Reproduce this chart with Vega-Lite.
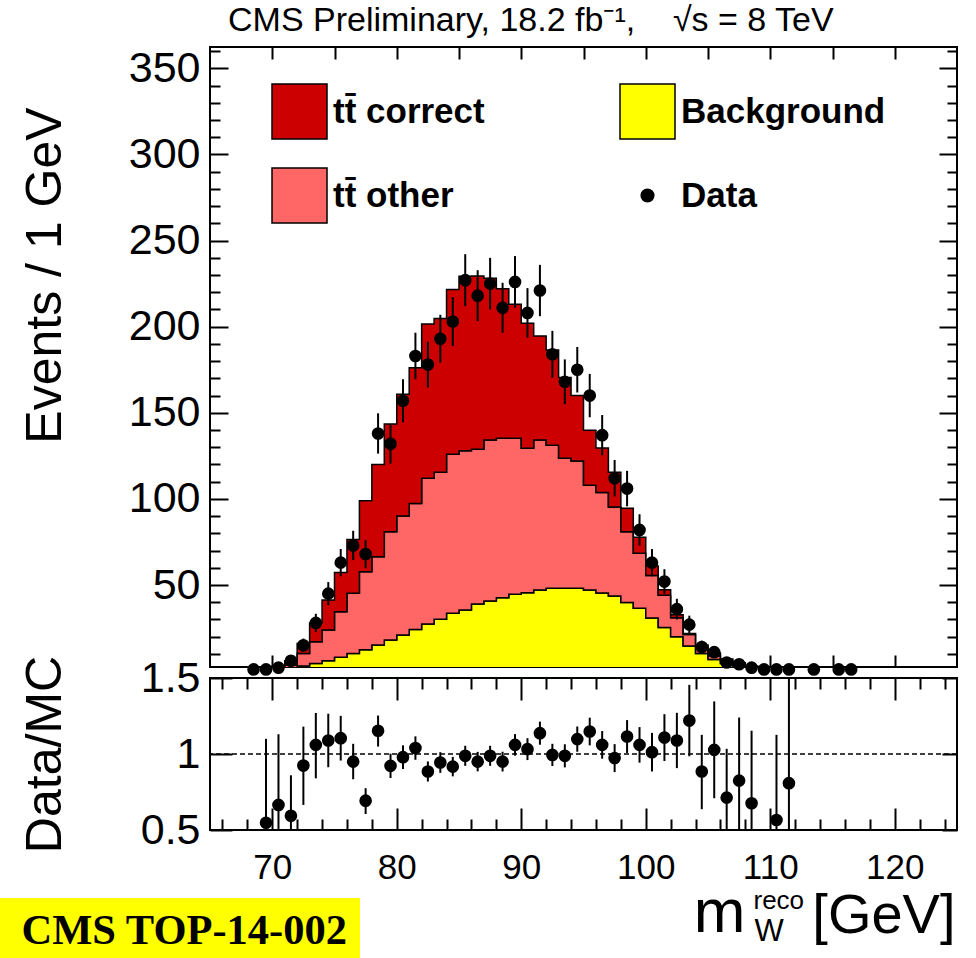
{
  "$schema": "https://vega.github.io/schema/vega-lite/v6.json",
  "padding": {"left": 0, "top": 3, "right": 0, "bottom": 0},
  "background": "white",
  "datasets": {
    "hist": [
      {"edge": 68, "bkg": 0, "other": 0, "signal": 0},
      {"edge": 69, "bkg": 0.6, "other": 0.6, "signal": 0.6},
      {"edge": 70, "bkg": 1, "other": 0.8, "signal": 1.2},
      {"edge": 71, "bkg": 2, "other": 1.5, "signal": 2.5},
      {"edge": 72, "bkg": 3, "other": 7.3, "signal": 5.7},
      {"edge": 73, "bkg": 4.5, "other": 12.6, "signal": 10.9},
      {"edge": 74, "bkg": 6, "other": 17.9, "signal": 17.4},
      {"edge": 75, "bkg": 8, "other": 26.5, "signal": 22.8},
      {"edge": 76, "bkg": 10.3, "other": 34.9, "signal": 31.2},
      {"edge": 77, "bkg": 12.4, "other": 45.3, "signal": 41.3},
      {"edge": 78, "bkg": 15.2, "other": 51.2, "signal": 53.6},
      {"edge": 79, "bkg": 18.1, "other": 62.9, "signal": 62.5},
      {"edge": 80, "bkg": 21, "other": 69.1, "signal": 70.6},
      {"edge": 81, "bkg": 24.2, "other": 73.2, "signal": 78.8},
      {"edge": 82, "bkg": 27.4, "other": 84.6, "signal": 89.5},
      {"edge": 83, "bkg": 30.1, "other": 85.4, "signal": 89.3},
      {"edge": 84, "bkg": 33.6, "other": 92.3, "signal": 95.7},
      {"edge": 85, "bkg": 35.5, "other": 92.5, "signal": 101.3},
      {"edge": 86, "bkg": 39, "other": 89.8, "signal": 100.6},
      {"edge": 87, "bkg": 40.7, "other": 93.5, "signal": 93.9},
      {"edge": 88, "bkg": 42.6, "other": 92.6, "signal": 86.8},
      {"edge": 89, "bkg": 44.6, "other": 90.6, "signal": 77.8},
      {"edge": 90, "bkg": 45.5, "other": 83.9, "signal": 72.6},
      {"edge": 91, "bkg": 47.1, "other": 87.1, "signal": 60.4},
      {"edge": 92, "bkg": 48.1, "other": 83.1, "signal": 55.3},
      {"edge": 93, "bkg": 48.1, "other": 75.5, "signal": 46.9},
      {"edge": 94, "bkg": 48.1, "other": 73.9, "signal": 38},
      {"edge": 95, "bkg": 47.1, "other": 60.9, "signal": 31.8},
      {"edge": 96, "bkg": 45.3, "other": 58.4, "signal": 25.8},
      {"edge": 97, "bkg": 43.6, "other": 51.7, "signal": 20.2},
      {"edge": 98, "bkg": 39.8, "other": 41.2, "signal": 13.6},
      {"edge": 99, "bkg": 36.5, "other": 31.9, "signal": 9.4},
      {"edge": 100, "bkg": 30.8, "other": 24.7, "signal": 5.5},
      {"edge": 101, "bkg": 25.4, "other": 18.6, "signal": 3.3},
      {"edge": 102, "bkg": 20, "other": 11, "signal": 1.8},
      {"edge": 103, "bkg": 14.6, "other": 6.7, "signal": 0.5},
      {"edge": 104, "bkg": 10.3, "other": 4.2, "signal": 0.7},
      {"edge": 105, "bkg": 6.8, "other": 2.2, "signal": 1.5},
      {"edge": 106, "bkg": 4.5, "other": 1.5, "signal": 1},
      {"edge": 107, "bkg": 3, "other": 1, "signal": 0.8},
      {"edge": 108, "bkg": 1.8, "other": 0.7, "signal": 0.5},
      {"edge": 109, "bkg": 1.2, "other": 0.6, "signal": 0.7},
      {"edge": 110, "bkg": 0.9, "other": 0.4, "signal": 0.47},
      {"edge": 111, "bkg": 0.6, "other": 0.3, "signal": 0.34},
      {"edge": 112, "bkg": 0.3, "other": 0.1, "signal": 0.1},
      {"edge": 113, "bkg": 0.2, "other": 0.05, "signal": 0.05},
      {"edge": 114, "bkg": 0, "other": 0, "signal": 0}
    ],
    "data": [
      {"m": 68.5, "n": 1, "lo": 0, "hi": 2},
      {"m": 69.5, "n": 1, "lo": 0, "hi": 2},
      {"m": 70.5, "n": 2, "lo": 0.59, "hi": 3.41},
      {"m": 71.5, "n": 6, "lo": 3.55, "hi": 8.45},
      {"m": 72.5, "n": 15, "lo": 11.1, "hi": 18.9},
      {"m": 73.5, "n": 28, "lo": 22.7, "hi": 33.3},
      {"m": 74.5, "n": 45, "lo": 38.3, "hi": 51.7},
      {"m": 75.5, "n": 63, "lo": 55.1, "hi": 70.9},
      {"m": 76.5, "n": 73, "lo": 64.5, "hi": 81.5},
      {"m": 77.5, "n": 68, "lo": 59.8, "hi": 76.2},
      {"m": 78.5, "n": 138, "lo": 126.3, "hi": 149.7},
      {"m": 79.5, "n": 132, "lo": 120.5, "hi": 143.5},
      {"m": 80.5, "n": 157, "lo": 144.5, "hi": 169.5},
      {"m": 81.5, "n": 183, "lo": 169.5, "hi": 196.5},
      {"m": 82.5, "n": 178, "lo": 164.7, "hi": 191.3},
      {"m": 83.5, "n": 193, "lo": 179.1, "hi": 206.9},
      {"m": 84.5, "n": 203, "lo": 188.8, "hi": 217.2},
      {"m": 85.5, "n": 227, "lo": 211.9, "hi": 242.1},
      {"m": 86.5, "n": 218, "lo": 203.2, "hi": 232.8},
      {"m": 87.5, "n": 225, "lo": 210, "hi": 240},
      {"m": 88.5, "n": 211, "lo": 196.5, "hi": 225.5},
      {"m": 89.5, "n": 226, "lo": 211, "hi": 241},
      {"m": 90.5, "n": 208, "lo": 193.6, "hi": 222.4},
      {"m": 91.5, "n": 221, "lo": 206.1, "hi": 235.9},
      {"m": 92.5, "n": 184, "lo": 170.4, "hi": 197.6},
      {"m": 93.5, "n": 168, "lo": 155, "hi": 181},
      {"m": 94.5, "n": 175, "lo": 161.8, "hi": 188.2},
      {"m": 95.5, "n": 160, "lo": 147.4, "hi": 172.6},
      {"m": 96.5, "n": 137, "lo": 125.3, "hi": 148.7},
      {"m": 97.5, "n": 112, "lo": 101.4, "hi": 122.6},
      {"m": 98.5, "n": 106, "lo": 95.7, "hi": 116.3},
      {"m": 99.5, "n": 82, "lo": 72.9, "hi": 91.1},
      {"m": 100.5, "n": 63, "lo": 55.1, "hi": 70.9},
      {"m": 101.5, "n": 52, "lo": 44.8, "hi": 59.2},
      {"m": 102.5, "n": 36, "lo": 30, "hi": 42},
      {"m": 103.5, "n": 27, "lo": 21.8, "hi": 32.2},
      {"m": 104.5, "n": 14, "lo": 10.3, "hi": 17.7},
      {"m": 105.5, "n": 11, "lo": 7.7, "hi": 14.3},
      {"m": 106.5, "n": 5, "lo": 2.8, "hi": 7.2},
      {"m": 107.5, "n": 4, "lo": 2, "hi": 6},
      {"m": 108.5, "n": 2, "lo": 0.59, "hi": 3.41},
      {"m": 109.5, "n": 1, "lo": 0, "hi": 2},
      {"m": 110.5, "n": 1, "lo": 0, "hi": 2},
      {"m": 111.5, "n": 1, "lo": 0, "hi": 2},
      {"m": 113.5, "n": 1, "lo": 0, "hi": 2},
      {"m": 115.5, "n": 1, "lo": 0, "hi": 2},
      {"m": 116.5, "n": 1, "lo": 0, "hi": 2}
    ],
    "ratio": [
      {"m": 69.5, "r": 0.548, "lo": 0, "hi": 1.1},
      {"m": 70.5, "r": 0.665, "lo": 0.2, "hi": 1.13},
      {"m": 71.5, "r": 0.594, "lo": 0.33, "hi": 0.86},
      {"m": 72.5, "r": 0.924, "lo": 0.665, "hi": 1.18},
      {"m": 73.5, "r": 1.06, "lo": 0.84, "hi": 1.27},
      {"m": 74.5, "r": 1.089, "lo": 0.913, "hi": 1.265},
      {"m": 75.5, "r": 1.104, "lo": 0.957, "hi": 1.251},
      {"m": 76.5, "r": 0.95, "lo": 0.834, "hi": 1.067},
      {"m": 77.5, "r": 0.693, "lo": 0.605, "hi": 0.775},
      {"m": 78.5, "r": 1.153, "lo": 1.049, "hi": 1.253},
      {"m": 79.5, "r": 0.922, "lo": 0.842, "hi": 1.002},
      {"m": 80.5, "r": 0.979, "lo": 0.901, "hi": 1.057},
      {"m": 81.5, "r": 1.039, "lo": 0.962, "hi": 1.116},
      {"m": 82.5, "r": 0.885, "lo": 0.819, "hi": 0.951},
      {"m": 83.5, "r": 0.944, "lo": 0.876, "hi": 1.012},
      {"m": 84.5, "r": 0.917, "lo": 0.853, "hi": 0.981},
      {"m": 85.5, "r": 0.988, "lo": 0.922, "hi": 1.054},
      {"m": 86.5, "r": 0.95, "lo": 0.886, "hi": 1.014},
      {"m": 87.5, "r": 0.988, "lo": 0.922, "hi": 1.054},
      {"m": 88.5, "r": 0.95, "lo": 0.885, "hi": 1.015},
      {"m": 89.5, "r": 1.06, "lo": 0.989, "hi": 1.131},
      {"m": 90.5, "r": 1.032, "lo": 0.96, "hi": 1.104},
      {"m": 91.5, "r": 1.137, "lo": 1.061, "hi": 1.213},
      {"m": 92.5, "r": 0.994, "lo": 0.921, "hi": 1.067},
      {"m": 93.5, "r": 0.988, "lo": 0.912, "hi": 1.064},
      {"m": 94.5, "r": 1.098, "lo": 1.015, "hi": 1.181},
      {"m": 95.5, "r": 1.148, "lo": 1.057, "hi": 1.239},
      {"m": 96.5, "r": 1.06, "lo": 0.969, "hi": 1.151},
      {"m": 97.5, "r": 0.973, "lo": 0.881, "hi": 1.065},
      {"m": 98.5, "r": 1.115, "lo": 1.007, "hi": 1.223},
      {"m": 99.5, "r": 1.06, "lo": 0.943, "hi": 1.177},
      {"m": 100.5, "r": 1.012, "lo": 0.885, "hi": 1.139},
      {"m": 101.5, "r": 1.108, "lo": 0.954, "hi": 1.262},
      {"m": 102.5, "r": 1.089, "lo": 0.907, "hi": 1.271},
      {"m": 103.5, "r": 1.22, "lo": 0.985, "hi": 1.455},
      {"m": 104.5, "r": 0.885, "lo": 0.637, "hi": 1.126},
      {"m": 105.5, "r": 1.027, "lo": 0.709, "hi": 1.346},
      {"m": 106.5, "r": 0.713, "lo": 0.393, "hi": 1.034},
      {"m": 107.5, "r": 0.825, "lo": 0.41, "hi": 1.24},
      {"m": 108.5, "r": 0.676, "lo": 0.199, "hi": 1.153},
      {"m": 110.5, "r": 0.566, "lo": 0, "hi": 1.126},
      {"m": 111.5, "r": 0.808, "lo": 0, "hi": 1.616}
    ]
  },
  "vconcat": [
    {
      "width": 747,
      "height": 620,
      "title": {
        "text": "CMS Preliminary, 18.2 fb⁻¹,\u00a0\u00a0\u00a0 √s = 8 TeV",
        "anchor": "start",
        "frame": "group",
        "dx": 18,
        "font": "Liberation Sans",
        "fontSize": 34,
        "fontWeight": "normal",
        "color": "black",
        "offset": -8
      },
      "layer": [
        {
          "data": {"name": "hist"},
          "transform": [{"fold": ["bkg", "other", "signal"], "as": ["key", "value"]}],
          "mark": {"type": "area", "interpolate": "step-after", "clip": true, "stroke": "black", "strokeWidth": 1.5, "opacity": 1},
          "encoding": {
            "x": {
              "field": "edge", "type": "quantitative",
              "scale": {"domain": [65, 125], "nice": false, "zero": false},
              "axis": {
                "orient": "bottom",
                "values": [70, 75, 80, 85, 90, 95, 100, 105, 110, 115, 120],
                "labels": false, "tickSize": -12, "tickWidth": 2,
                "title": "W",
                "titleX": 544, "titleY": 273, "titleAlign": "left", "titleBaseline": "alphabetic",
                "titleFont": "Liberation Sans", "titleFontSize": 31, "titleFontWeight": "normal"
              }
            },
            "y": {
              "field": "value", "type": "quantitative", "stack": "zero",
              "scale": {"domain": [2.4, 362.4], "nice": false, "zero": false},
              "axis": {
                "orient": "left",
                "values": [10, 20, 30, 40, 50, 60, 70, 80, 90, 100, 110, 120, 130, 140, 150, 160, 170, 180, 190, 200, 210, 220, 230, 240, 250, 260, 270, 280, 290, 300, 310, 320, 330, 340, 350, 360],
                "labelExpr": "datum.value % 50 === 0 ? datum.label : ''",
                "format": "d",
                "tickSize": {"condition": {"test": "datum.value % 50 === 0", "value": -18}, "value": -10},
                "tickWidth": 2,
                "labelPadding": 28,
                "labelFont": "Liberation Sans", "labelFontSize": 43,
                "labelOverlap": false, "labelFlush": false, "labelBound": false,
                "title": "Events / 1 GeV",
                "titleX": -165, "titleY": 228, "titleAngle": 270, "titleAlign": "center", "titleBaseline": "middle",
                "titleFont": "Liberation Sans", "titleFontSize": 50, "titleFontWeight": "normal"
              }
            },
            "color": {
              "field": "key", "type": "nominal",
              "scale": {"domain": ["signal", "other", "bkg", "Data"], "range": ["#cc0000", "#ff6666", "#ffff00", "#000000"]},
              "legend": {
                "orient": "none", "legendX": 72, "legendY": 47,
                "columns": 2, "columnPadding": 132, "rowPadding": 23,
                "title": null,
                "symbolType": "square", "symbolSize": 3025, "symbolStrokeColor": "black", "symbolStrokeWidth": 1.5, "symbolOpacity": 1,
                "labelFont": "Liberation Sans", "labelFontWeight": "bold", "labelFontSize": 35, "labelColor": "black", "labelOffset": 16, "labelLimit": 0,
                "labelExpr": "datum.label === 'signal' ? 'tt\u0304 correct' : datum.label === 'other' ? 'tt\u0304 other' : datum.label === 'bkg' ? 'Background' : 'Data'",
                "encode": {
                  "symbols": {
                    "update": {
                      "shape": {"signal": "datum.value === 'Data' ? 'circle' : 'square'"},
                      "size": {"signal": "datum.value === 'Data' ? 200 : 3025"},
                      "strokeWidth": {"signal": "datum.value === 'Data' ? 0 : 1.5"}
                    }
                  }
                }
              }
            },
            "order": {"field": "key", "sort": "ascending"}
          }
        },
        {
          "data": {"name": "data"},
          "mark": {"type": "rule", "color": "black", "strokeWidth": 2, "clip": true},
          "encoding": {
            "x": {"field": "m", "type": "quantitative", "axis": null},
            "y": {"field": "lo", "type": "quantitative", "axis": null},
            "y2": {"field": "hi"}
          }
        },
        {
          "data": {"name": "data"},
          "mark": {"type": "point", "shape": "circle", "filled": true, "size": 160, "opacity": 1},
          "encoding": {
            "x": {
              "field": "m", "type": "quantitative",
              "axis": {"orient": "top", "values": [70, 75, 80, 85, 90, 95, 100, 105, 110, 115, 120], "labels": false, "tickSize": -12, "tickWidth": 2, "title": null}
            },
            "y": {
              "field": "n", "type": "quantitative",
              "axis": {
                "orient": "right",
                "values": [10, 20, 30, 40, 50, 60, 70, 80, 90, 100, 110, 120, 130, 140, 150, 160, 170, 180, 190, 200, 210, 220, 230, 240, 250, 260, 270, 280, 290, 300, 310, 320, 330, 340, 350, 360],
                "labels": false,
                "tickSize": {"condition": {"test": "datum.value % 50 === 0", "value": -18}, "value": -10},
                "tickWidth": 2, "title": null
              }
            },
            "color": {"datum": "Data", "scale": {"domain": ["signal", "other", "bkg", "Data"], "range": ["#cc0000", "#ff6666", "#ffff00", "#000000"]}}
          }
        }
      ],
      "resolve": {"axis": {"x": "independent", "y": "independent"}}
    },
    {
      "width": 747,
      "height": 152,
      "layer": [
        {
          "data": {"values": [{}]},
          "mark": {"type": "rule", "color": "black", "strokeWidth": 1.5},
          "encoding": {
            "y": {"datum": 1, "axis": null},
            "strokeDash": {
              "datum": "CMS TOP-14-002",
              "scale": {"range": [[5, 3]]},
              "legend": {
                "orient": "none", "legendX": -210, "legendY": 851,
                "title": null, "fillColor": "#ffff00", "padding": 12,
                "symbolSize": 1, "symbolOpacity": 0, "symbolStrokeWidth": 0, "symbolType": "circle",
                "labelOffset": -33, "labelLimit": 0,
                "labelFont": "Liberation Serif", "labelFontWeight": "bold", "labelFontSize": 42.5, "labelColor": "black"
              }
            }
          }
        },
        {
          "data": {"name": "ratio"},
          "mark": {"type": "rule", "color": "black", "strokeWidth": 2, "clip": true},
          "encoding": {
            "x": {
              "field": "m", "type": "quantitative",
              "scale": {"domain": [65, 125], "nice": false, "zero": false},
              "axis": {
                "orient": "bottom",
                "values": [66, 68, 70, 72, 74, 76, 78, 80, 82, 84, 86, 88, 90, 92, 94, 96, 98, 100, 102, 104, 106, 108, 110, 112, 114, 116, 118, 120, 122, 124],
                "labelExpr": "datum.value % 10 === 0 ? datum.label : ''",
                "format": "d",
                "tickSize": {"condition": {"test": "datum.value % 10 === 0", "value": -22}, "value": -11},
                "tickWidth": 2,
                "labelPadding": 42,
                "labelFont": "Liberation Sans", "labelFontSize": 35,
                "labelOverlap": false, "labelFlush": false, "labelBound": false,
                "title": "[GeV]",
                "titleX": 745, "titleY": 102, "titleAlign": "right", "titleBaseline": "alphabetic",
                "titleFont": "Liberation Sans", "titleFontSize": 56, "titleFontWeight": "normal"
              }
            },
            "y": {
              "field": "lo", "type": "quantitative",
              "scale": {"domain": [0.5, 1.5], "nice": false, "zero": false},
              "axis": {
                "orient": "left",
                "values": [0.5, 1, 1.5],
                "format": "~g",
                "tickSize": -22, "tickWidth": 2,
                "labelPadding": 32,
                "labelFont": "Liberation Sans", "labelFontSize": 43,
                "labelOverlap": false, "labelFlush": false, "labelBound": false,
                "title": "Data/MC",
                "titleX": -165, "titleAngle": 270, "titleAlign": "center", "titleBaseline": "middle",
                "titleFont": "Liberation Sans", "titleFontSize": 50, "titleFontWeight": "normal"
              }
            },
            "y2": {"field": "hi"}
          }
        },
        {
          "data": {"name": "ratio"},
          "mark": {"type": "point", "shape": "circle", "filled": true, "size": 160, "opacity": 1, "color": "black"},
          "encoding": {
            "x": {
              "field": "m", "type": "quantitative",
              "axis": {
                "orient": "top",
                "values": [66, 68, 70, 72, 74, 76, 78, 80, 82, 84, 86, 88, 90, 92, 94, 96, 98, 100, 102, 104, 106, 108, 110, 112, 114, 116, 118, 120, 122, 124],
                "labels": false,
                "tickSize": {"condition": {"test": "datum.value % 10 === 0", "value": -22}, "value": -11},
                "tickWidth": 2,
                "title": "reco",
                "titleX": 543, "titleY": 230, "titleAlign": "left", "titleBaseline": "alphabetic",
                "titleFont": "Liberation Sans", "titleFontSize": 26, "titleFontWeight": "normal"
              }
            },
            "y": {
              "field": "r", "type": "quantitative",
              "axis": {
                "orient": "right",
                "values": [0.5, 1, 1.5],
                "labels": false, "tickSize": -15, "tickWidth": 2,
                "title": "m",
                "titleX": -212, "titleY": 253, "titleAngle": 0, "titleAlign": "right", "titleBaseline": "alphabetic",
                "titleFont": "Liberation Sans", "titleFontSize": 62, "titleFontWeight": "normal"
              }
            }
          }
        }
      ],
      "resolve": {"axis": {"x": "independent", "y": "independent"}}
    }
  ],
  "spacing": 11,
  "bounds": "flush",
  "config": {
    "view": {"stroke": "black", "strokeWidth": 2},
    "axis": {"domain": false, "grid": false, "tickColor": "black", "labelColor": "black", "titleColor": "black"},
    "font": "Liberation Sans"
  }
}
